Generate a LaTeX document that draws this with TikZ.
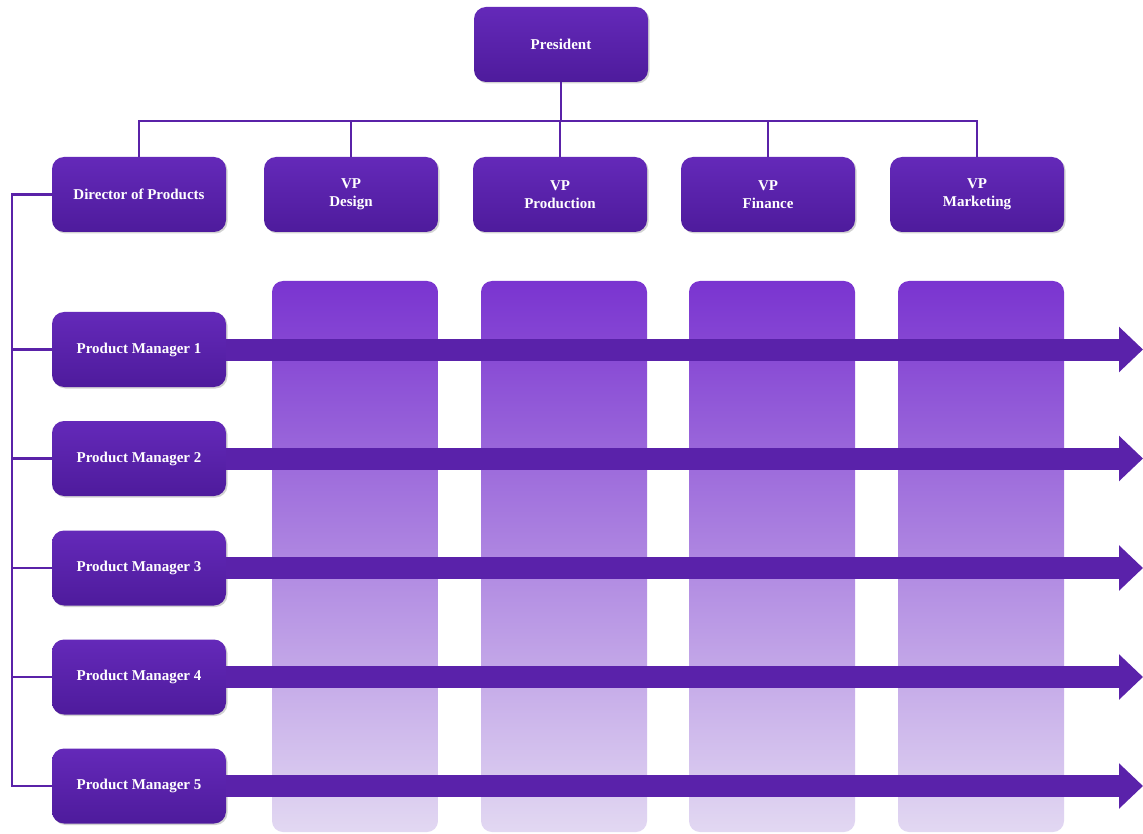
\documentclass[tikz,border=0pt]{standalone}
\usepackage{fontspec}
\setmainfont{Liberation Serif}
\usetikzlibrary{arrows.meta,shadows}
\definecolor{boxtop}{HTML}{6429B9}
\definecolor{boxbot}{HTML}{4E1B9C}
\definecolor{linec}{HTML}{5A22A8}
\definecolor{coltop}{HTML}{7A34D0}
\definecolor{colbot}{HTML}{E2D8F2}
\definecolor{arrowc}{HTML}{5A22AA}
\tikzset{
  orgbox/.style={rectangle, rounded corners=12pt, minimum width=174pt, minimum height=75pt,
    top color=boxtop, bottom color=boxbot, draw=none,
    drop shadow={shadow xshift=1.5pt, shadow yshift=-1.5pt, fill=black!35, opacity=0.5},
    text=white, font=\bfseries\fontsize{15}{18}\selectfont, align=center, inner sep=2pt},
  conn/.style={draw=linec, line width=2.6pt},
  column/.style={rounded corners=11pt, top color=coltop, bottom color=colbot, draw=none},
  flow/.style={draw=arrowc, line width=22pt, -{Triangle[length=24pt,width=44pt]}}
}
\begin{document}
\begin{tikzpicture}[x=1pt,y=-1pt]
\useasboundingbox (0,0) rectangle (1143,834);
\fill[white] (0,0) rectangle (1143,834);
% columns
\foreach \cx in {272,481,689,898}{
  \shade[column] (\cx,281) rectangle ++(166,551);
}
% nodes
\node[orgbox] (pres) at (561,44.5) {President};
\node[orgbox] (dir) at (139,194.5) {Director of Products};
\node[orgbox] (vpd) at (351,194.5) {VP\\Design};
\node[orgbox] (vpp) at (560,194.5) {VP\\Production};
\node[orgbox] (vpf) at (768,194.5) {VP\\Finance};
\node[orgbox] (vpm) at (977,194.5) {VP\\Marketing};
\node[orgbox] (pm1) at (139,349.5) {Product Manager 1};
\node[orgbox] (pm2) at (139,458.5) {Product Manager 2};
\node[orgbox] (pm3) at (139,568) {Product Manager 3};
\node[orgbox] (pm4) at (139,677) {Product Manager 4};
\node[orgbox] (pm5) at (139,786) {Product Manager 5};
% top tree
\coordinate (bus) at (0,121);
\coordinate (spine) at (12,0);
\draw[conn] (pres.south) -- (pres.south |- bus);
\draw[conn] (dir.north) -- (bus -| dir.north) -- (bus -| vpm.north) -- (vpm.north);
\foreach \n in {vpd,vpp,vpf}{
  \draw[conn] (bus -| \n.north) -- (\n.north);
}
% left tree
\draw[conn] (dir.west) -- (dir.west -| spine) -- (pm5.west -| spine) -- (pm5.west);
\foreach \n in {pm1,pm2,pm3,pm4}{
  \draw[conn] (\n.west -| spine) -- (\n.west);
}
% arrows
\foreach \n in {pm1,pm2,pm3,pm4,pm5}{
  \coordinate (\n end) at (1143,0);
  \draw[flow] (\n.east) -- (\n.east -| \n end);
}
\end{tikzpicture}
\end{document}
